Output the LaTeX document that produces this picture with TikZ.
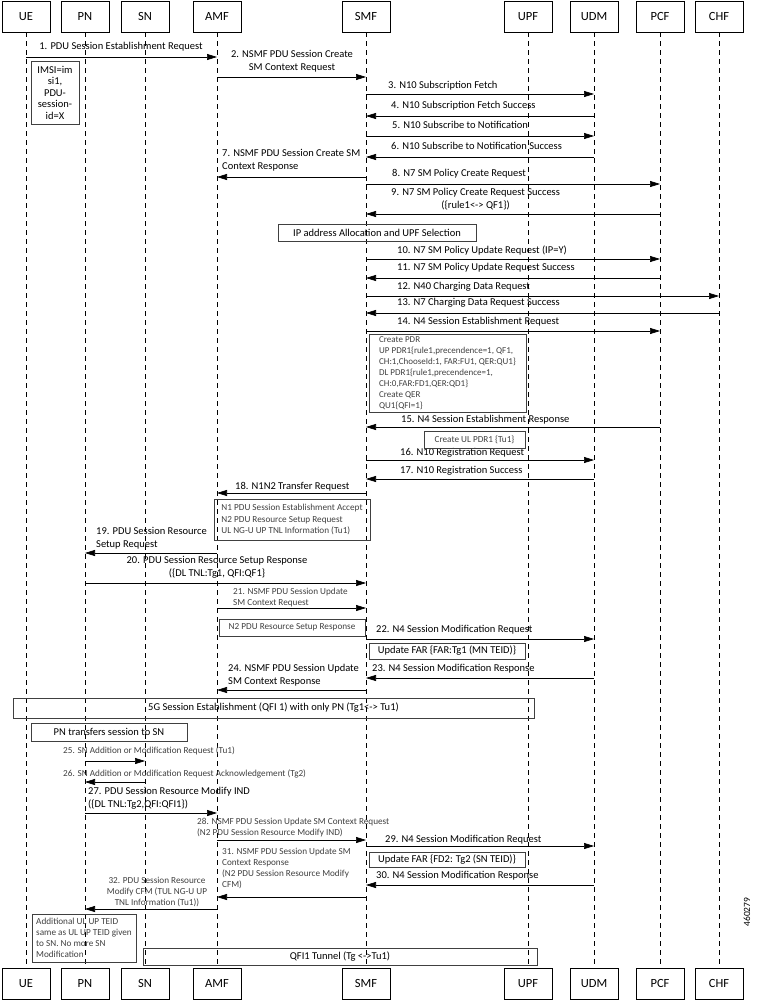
\documentclass[tikz,border=0pt]{standalone}
\usepackage{fontspec}
\setmainfont{Carlito}
\usetikzlibrary{arrows.meta}

\begin{document}
\begin{tikzpicture}[x=1pt, y=-1pt,
		EntityBox/.style={draw, line width=0.7pt, minimum width=48pt, minimum height=31pt, inner sep=0pt, font=\fontsize{12.5}{14}\selectfont},
		LifeLine/.style={line width=0.7pt, dash pattern=on 5pt off 4pt},
		MsgArrow/.style={line width=0.7pt, -{Triangle[length=10pt, width=6pt]}},
		MsgText/.style={inner sep=0pt, align=left, font=\fontsize{10.5}{13}\selectfont},
		SmallText/.style={inner sep=0pt, align=left, text=black!75, font=\fontsize{9.2}{11}\selectfont},
		NoteBox/.style={draw=black!75, line width=0.8pt, inner sep=0pt}]

	\useasboundingbox (0,0) rectangle (759,1000);

	% Entities and lifelines
	\foreach \Name/\X in {UE/26, PN/85, SN/145, AMF/217, SMF/366, UPF/528, UDM/594, PCF/660, CHF/719} {
		\node[EntityBox] (\Name) at (\X,16.5) {\Name};
		\node[EntityBox] (\Name Foot) at (\X,983.5) {\Name};
		\draw[LifeLine] (\Name) -- (\Name Foot);
	}

	% Messages
	\foreach \Num/\From/\To/\Y in {1/UE/AMF/57, 2/AMF/SMF/77, 3/SMF/UDM/94, 4/UDM/SMF/116, 5/SMF/UDM/136,
			6/UDM/SMF/157, 7/SMF/AMF/177, 8/SMF/PCF/184, 9/PCF/SMF/214, 10/SMF/PCF/259, 11/PCF/SMF/278,
			12/SMF/CHF/296, 13/CHF/SMF/313, 14/SMF/PCF/331, 15/PCF/SMF/427, 16/SMF/UDM/460, 17/UDM/SMF/479,
			18/SMF/AMF/493, 19/AMF/PN/553, 20/PN/SMF/583, 21/AMF/SMF/608, 22/SMF/UDM/639, 23/UDM/SMF/678,
			24/SMF/AMF/690, 25/PN/SN/761, 26/SN/PN/782, 27/PN/AMF/813, 28/AMF/SMF/840, 29/SMF/UDM/846,
			30/UDM/SMF/885, 31/SMF/AMF/897, 32/AMF/PN/909} {
		\coordinate (Msg\Num From) at (\From |- 0,\Y);
		\coordinate (Msg\Num To) at (\To |- 0,\Y);
		\draw[MsgArrow] (Msg\Num From) -- (Msg\Num To);
	}

	% Message labels
	\node[MsgText] (Lbl1) at (121,47) {1. PDU Session Establishment Request};
	\node[MsgText, align=center] (Lbl2) at (292,61) {2. NSMF PDU Session Create\\SM Context Request};
	\node[MsgText, anchor=west] (Lbl3) at (388,86) {3. N10 Subscription Fetch};
	\node[MsgText, anchor=west] (Lbl4) at (391,106) {4. N10 Subscription Fetch Success};
	\node[MsgText, anchor=west] (Lbl5) at (392,125) {5. N10 Subscribe to Notification};
	\node[MsgText, anchor=west] (Lbl6) at (391,146) {6. N10 Subscribe to Notification Success};
	\node[MsgText, anchor=west] (Lbl7) at (222,160.5) {7. NSMF PDU Session Create SM\\Context Response};
	\node[MsgText, anchor=west] (Lbl8) at (392,174) {8. N7 SM Policy Create Request};
	\node[MsgText, anchor=west, align=center] (Lbl9) at (391,199.5) {9. N7 SM Policy Create Request Success\\(\{rule1<-> QF1\})};
	\node[MsgText, anchor=west] (Lbl10) at (397,251) {10. N7 SM Policy Update Request (IP=Y)};
	\node[MsgText, anchor=west] (Lbl11) at (397,268) {11. N7 SM Policy Update Request Success};
	\node[MsgText, anchor=west] (Lbl12) at (397,287) {12. N40 Charging Data Request};
	\node[MsgText, anchor=west] (Lbl13) at (397,303) {13. N7 Charging Data Request Success};
	\node[MsgText, anchor=west] (Lbl14) at (397,322) {14. N4 Session Establishment Request};
	\node[MsgText, anchor=west] (Lbl15) at (401,420) {15. N4 Session Establishment Response};
	\node[MsgText, anchor=west] (Lbl16) at (400,453) {16. N10 Registration Request};
	\node[MsgText, anchor=west] (Lbl17) at (400,471) {17. N10 Registration Success};
	\node[MsgText, anchor=west] (Lbl18) at (235,487) {18. N1N2 Transfer Request};
	\node[MsgText, anchor=west] (Lbl19) at (96,538.5) {19. PDU Session Resource\\Setup Request};
	\node[MsgText, align=center] (Lbl20) at (217,567.5) {20. PDU Session Resource Setup Response\\(\{DL TNL:Tg1, QFI:QF1\}};
	\node[SmallText, anchor=west] (Lbl21) at (233,597.5) {21. NSMF PDU Session Update\\SM Context Request};
	\node[MsgText, anchor=west] (Lbl22) at (376,630) {22. N4 Session Modification Request};
	\node[MsgText, anchor=west] (Lbl23) at (372,669) {23. N4 Session Modification Response};
	\node[MsgText, anchor=west] (Lbl24) at (228,675) {24. NSMF PDU Session Update\\SM Context Response};
	\node[SmallText, anchor=west] (Lbl25) at (63,751) {25. SN Addition or Modification Request (Tu1)};
	\node[SmallText, anchor=west] (Lbl26) at (63,774) {26. SN Addition or Modification Request Acknowledgement (Tg2)};
	\node[MsgText, anchor=west] (Lbl27) at (88,798) {27. PDU Session Resource Modify IND\\(\{DL TNL:Tg2,QFI:QFI1\})};
	\node[SmallText, anchor=west] (Lbl28) at (197,827.5) {28. NSMF PDU Session Update SM Context Request\\(N2 PDU Session Resource Modify IND)};
	\node[MsgText, anchor=west] (Lbl29) at (385,840) {29. N4 Session Modification Request};
	\node[MsgText, anchor=west] (Lbl30) at (376,876) {30. N4 Session Modification Response};
	\node[SmallText, anchor=west] (Lbl31) at (222,868) {31. NSMF PDU Session Update SM\\Context Response\\(N2 PDU Session Resource Modify\\CFM)};
	\node[SmallText, align=center] (Lbl32) at (157,892) {32. PDU Session Resource\\Modify CFM (TUL NG-U UP\\TNL Information (Tu1))};

	% Notes
	\node[NoteBox, MsgText, align=center, minimum width=48pt, minimum height=63pt, font=\fontsize{10.5}{11.5}\selectfont] (ImsiBox) at (55,92.5) {IMSI=im\\si1,\\PDU-\\session-\\id=X};
	\node[NoteBox, MsgText, minimum width=198pt, minimum height=17pt] (IpBox) at (377,232.5) {IP address Allocation and UPF Selection};
	\node[NoteBox, align=left, text=black!75, minimum width=157pt, minimum height=78pt, font=\fontsize{9}{11.1}\selectfont] (PdrBox) at (447.5,373) {Create PDR\\UP PDR1\{rule1,precendence=1, QF1,\\CH:1,ChooseId:1, FAR:FU1, QER:QU1\}\\DL PDR1\{rule1,precendence=1,\\CH:0,FAR:FD1,QER:QD1\}\\Create QER\\QU1\{QFI=1\}};
	\node[NoteBox, SmallText, minimum width=101pt, minimum height=17pt] (UlPdrBox) at (474.5,439.5) {Create UL PDR1 \{Tu1\}};
	\node[NoteBox, SmallText, minimum width=156pt, minimum height=41pt, font=\fontsize{9.2}{11.5}\selectfont] (NOneBox) at (292,519.5) {N1 PDU Session Establishment Accept\\N2 PDU Resource Setup Request\\UL NG-U UP TNL Information (Tu1)};
	\node[NoteBox, SmallText, minimum width=146pt, minimum height=17pt] (NTwoBox) at (292,627.5) {N2 PDU Resource Setup Response};
	\node[NoteBox, MsgText, minimum width=156pt, minimum height=16pt] (FarBoxA) at (447,651) {Update FAR \{FAR:Tg1 (MN TEID)\}};
	\node[NoteBox, MsgText, minimum width=521pt, minimum height=20pt] (FiveGBox) at (273.5,708) {5G Session Establishment (QFI 1) with only PN (Tg1<-> Tu1)};
	\node[NoteBox, MsgText, minimum width=156pt, minimum height=18pt] (TransferBox) at (109,732) {PN transfers session to SN};
	\node[NoteBox, MsgText, minimum width=156pt, minimum height=15pt] (FarBoxB) at (447,860) {Update FAR \{FD2: Tg2 (SN TEID)\}};
	\node[NoteBox, SmallText, minimum width=104pt, minimum height=48pt] (ExtraBox) at (84,938) {Additional UL UP TEID\\same as UL UP TEID given\\to SN. No more SN\\Modification};
	\node[NoteBox, MsgText, minimum width=394pt, minimum height=17pt] (TunnelBox) at (340,956.5) {QFI1 Tunnel (Tg <->Tu1)};

	% Figure id
	\node[rotate=90, inner sep=0pt, font=\fontsize{9.5}{11}\selectfont] (FigId) at (747,912) {460279};
\end{tikzpicture}
\end{document}
